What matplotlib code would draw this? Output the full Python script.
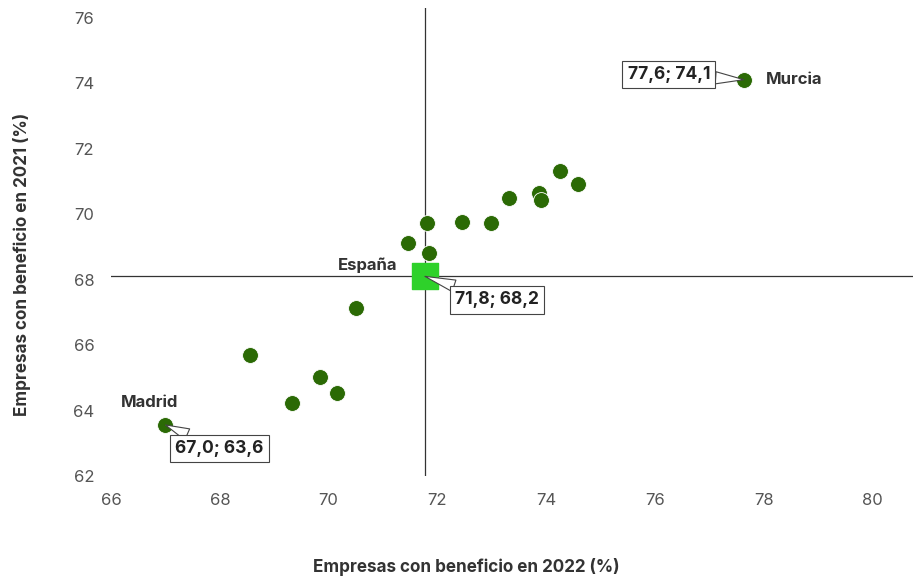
import matplotlib.pyplot as plt

plt.rcParams['font.family'] = ['Inter', 'DejaVu Sans']

# Empresas con beneficio (%) por comunidad autónoma
x_2022 = [67.0, 77.63, 68.55, 69.33, 69.84, 70.15, 70.50, 71.46, 71.80, 71.85,
          72.45, 72.99, 73.32, 73.87, 73.91, 74.25, 74.59]
y_2021 = [63.56, 74.11, 65.70, 64.23, 65.03, 64.54, 67.14, 69.12, 69.74, 68.81,
          69.77, 69.73, 70.49, 70.64, 70.42, 71.33, 70.91]

espana_x = 71.77
espana_y = 68.1

# etiquetas destacadas: nombre, x, y, texto valor
destacados = [("Madrid", 67.0, 63.56, "67,0; 63,6"),
              ("Murcia", 77.63, 74.11, "77,6; 74,1"),
              ("España", espana_x, espana_y, "71,8; 68,2")]

x_ticks = [66, 68, 70, 72, 74, 76, 78, 80]
y_ticks = [62, 64, 66, 68, 70, 72, 74, 76]

fig = plt.figure(figsize=(9.14, 5.78), dpi=100)
ax = fig.add_axes([111 / 914, 1 - 476 / 578, 802 / 914, 468 / 578])

# Cruz de referencia en España
ax.axvline(espana_x, color="#333333", lw=0.9, zorder=1)
ax.axhline(espana_y, color="#333333", lw=0.9, zorder=1)

ax.scatter(x_2022, y_2021, s=130, color="#2B6A05", edgecolor="white",
           linewidth=0.6, zorder=3)
ax.scatter([espana_x], [espana_y], s=330, marker="s", color="#2ED12A",
           zorder=4)

ax.set_xlim(66, 80.74)
ax.set_ylim(62, 76.3)
ax.set_xticks(x_ticks)
ax.set_yticks(y_ticks)
ax.tick_params(length=0, labelsize=12, colors="#555555", pad=12)
for s in ax.spines.values():
    s.set_visible(False)

fig.text(466 / 914, 1 - 567 / 578, "Empresas con beneficio en 2022 (%)",
         ha="center", va="center", fontsize=12.3, fontweight="bold",
         color="#333333")
fig.text(22 / 914, 1 - 264 / 578, "Empresas con beneficio en 2021 (%)",
         ha="center", va="center", rotation=90, fontsize=12.3,
         fontweight="bold", color="#333333")

name_offsets = {"Madrid": ((-11.5, 16), "center"),
                "España": ((-41, 8), "center"),
                "Murcia": ((16, 0), "left")}
box_offsets = {"Madrid": (39, -17), "España": (52, -17), "Murcia": (-54, 3.6)}

for nombre, px, py, valor in destacados:
    off, ha = name_offsets[nombre]
    ax.annotate(nombre, (px, py), xytext=off, textcoords="offset points",
                ha=ha, va="center", fontsize=12, fontweight="bold",
                color="#333333", zorder=5)
    ax.annotate(valor, (px, py), xytext=box_offsets[nombre],
                textcoords="offset points", ha="center", va="center",
                fontsize=12.5, fontweight="bold", color="#222222",
                bbox=dict(boxstyle="square,pad=0.3", fc="white",
                          ec="#444444", lw=0.8),
                arrowprops=dict(arrowstyle="wedge,tail_width=0.7",
                                fc="white", ec="#444444", lw=0.8,
                                shrinkA=0, shrinkB=0),
                zorder=5)

fig.savefig("out.png", dpi=100)
